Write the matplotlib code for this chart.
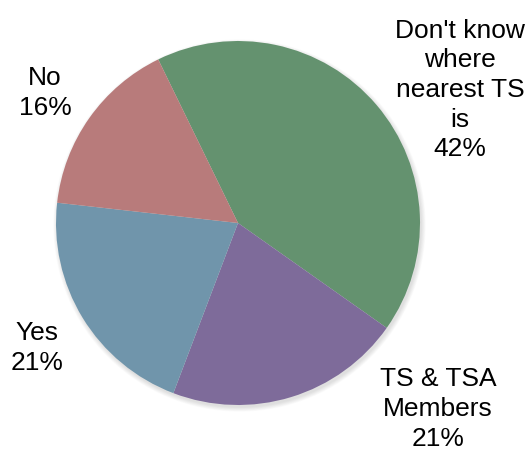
import matplotlib
matplotlib.use("Agg")
import matplotlib.pyplot as plt
from matplotlib.patches import Circle

# Survey answers: does the respondent know where the nearest TS is?
categories = ["Don't know\nwhere\nnearest TS\nis", "TS & TSA\nMembers", "Yes", "No"]
shares = [42, 21, 21, 16]
colors = ["#64926f", "#7e6b9a", "#7095ab", "#b87b7b"]

W, H = 529, 452
fig = plt.figure(figsize=(W / 100, H / 100), dpi=100)
ax = fig.add_axes([0, 0, 1, 1])

cx, cy, r = 238, H - 224, 182

# soft drop shadow under the pie
for i in range(8):
    ax.add_patch(Circle((cx + 1.5, cy - 2.5), r + i * 0.6, color="black",
                        alpha=0.016, lw=0, zorder=0))

wedges, _ = ax.pie(shares, colors=colors, startangle=116, counterclock=False,
                   center=(cx, cy), radius=r, frame=True,
                   wedgeprops=dict(linewidth=0))
ax.set_xlim(0, W)
ax.set_ylim(0, H)
ax.set_aspect("equal")
ax.axis("off")

label_xy = [(460, 90), (438, 409), (37, 348), (45, 93)]
for cat, val, (x, y) in zip(categories, shares, label_xy):
    ax.text(x, H - y, f"{cat}\n{val}%", ha="center", va="center",
            fontsize=19, family="Liberation Sans", color="black",
            linespacing=1.3)

fig.savefig("out.png", dpi=100)
